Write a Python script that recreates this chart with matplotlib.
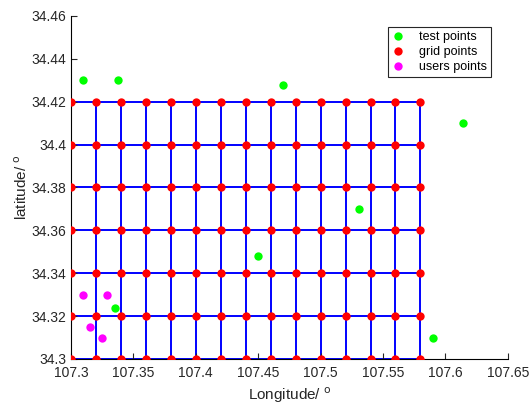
import numpy as np
import matplotlib.pyplot as plt

plt.rcParams['font.family'] = ['Liberation Sans', 'DejaVu Sans']

# grid node coordinates
grid_lon = [107.30, 107.32, 107.34, 107.36, 107.38, 107.40, 107.42, 107.44,
            107.46, 107.48, 107.50, 107.52, 107.54, 107.56, 107.58]
grid_lat = [34.30, 34.32, 34.34, 34.36, 34.38, 34.40, 34.42]

# test points
test_lon = [107.310, 107.338, 107.470, 107.614, 107.531, 107.450, 107.335, 107.590]
test_lat = [34.430, 34.430, 34.428, 34.410, 34.370, 34.348, 34.324, 34.310]

# users points
user_lon = [107.310, 107.329, 107.315, 107.325]
user_lat = [34.330, 34.330, 34.315, 34.310]

xticks = [107.3, 107.35, 107.4, 107.45, 107.5, 107.55, 107.6, 107.65]
yticks = [34.3, 34.32, 34.34, 34.36, 34.38, 34.4, 34.42, 34.44, 34.46]

fig = plt.figure(figsize=(5.29, 4.05), dpi=100)
ax = fig.add_axes([0.134, 0.1136, 0.826, 0.847])

# blue mesh
for la in grid_lat:
    ax.plot([grid_lon[0], grid_lon[-1]], [la, la], color='blue', lw=1.4, zorder=1)
for lo in grid_lon:
    ax.plot([lo, lo], [grid_lat[0], grid_lat[-1]], color='blue', lw=1.4, zorder=1)

gx, gy = np.meshgrid(grid_lon, grid_lat)
h1, = ax.plot(test_lon, test_lat, 'o', color=(0, 1, 0), ms=6, mec='none', zorder=3, label='test points')
h2, = ax.plot(gx.ravel(), gy.ravel(), 'o', color=(1, 0, 0), ms=6, mec='none', zorder=3, label='grid points')
h3, = ax.plot(user_lon, user_lat, 'o', color=(1, 0, 1), ms=6, mec='none', zorder=3, label='users points')

ax.set_xlim(107.3, 107.65)
ax.set_ylim(34.3, 34.46)
ax.set_xticks(xticks)
ax.set_xticklabels(['%g' % v for v in xticks])
ax.set_yticks(yticks)
ax.set_yticklabels(['%g' % v for v in yticks])
ax.tick_params(direction='in', length=4, labelsize=10, colors='#262626')
ax.tick_params(axis='x', pad=5)
for s in ['top', 'right']:
    ax.spines[s].set_visible(False)
ax.set_xlabel('Longitude/ $^{\\rm o}$', fontsize=11, color='#262626')
ax.set_ylabel('latitude/ $^{\\rm o}$', fontsize=11, color='#262626', labelpad=1)

leg = ax.legend(handles=[h1, h2, h3], loc='upper right', bbox_to_anchor=(0.975, 0.985),
                fontsize=9, fancybox=False, edgecolor='#262626', framealpha=1,
                handlelength=1.0, borderpad=0.3, labelspacing=0.25, handletextpad=1.2)
leg.get_frame().set_linewidth(0.8)

fig.savefig('out.png', dpi=100)
